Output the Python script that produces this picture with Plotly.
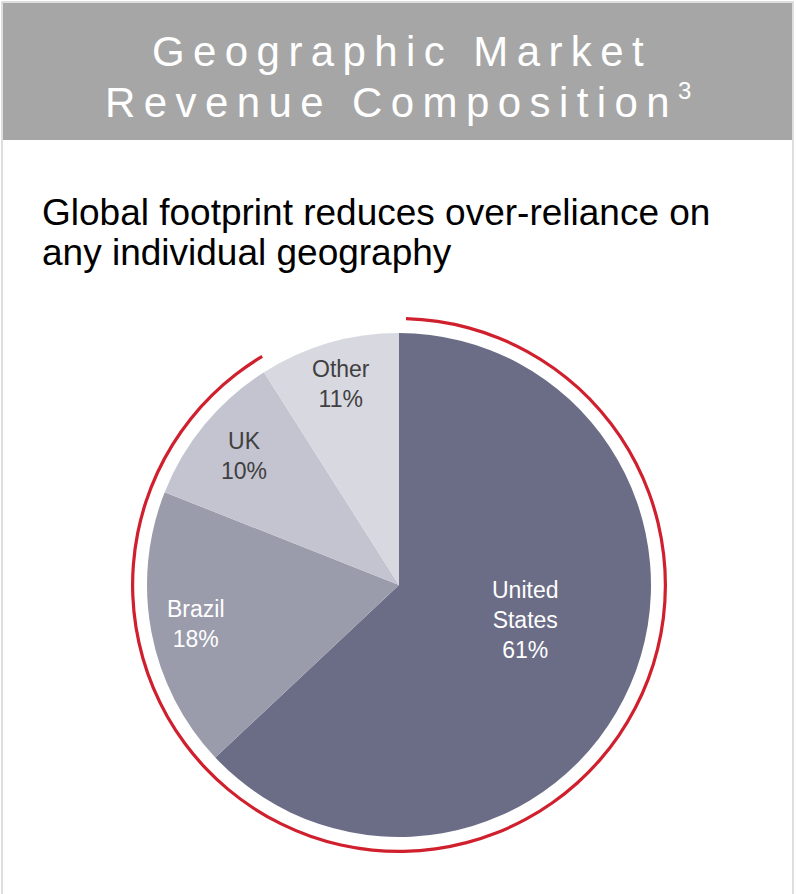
import math
import plotly.graph_objects as go

W, H = 796, 894

# ---- data ----
regions = ["United States", "Brazil", "UK", "Other"]
label_lines = ["United<br>States", "Brazil", "UK", "Other"]
slice_values = [63, 18, 10, 9]               # share as drawn (slice angles)
printed_pct = ["61%", "18%", "10%", "11%"]   # percentages printed on the slices
slice_colors = ["#6b6d87", "#9a9bab", "#c4c4d0", "#d8d8e1"]
label_colors = ["#ffffff", "#ffffff", "#404040", "#404040"]
label_radius = [0.52, 0.82, 0.80, 0.83]      # label distance from centre, fraction of radius
label_shift_deg = [-8, 0, 0, 0]              # label angle offset from slice bisector

title_lines = ["Geographic Market", "Revenue Composition"]
title_note = "3"
subtitle_lines = ["Global footprint reduces over-reliance on", "any individual geography"]


def spaced(s):
    thin = "\u2009"
    words = s.split(" ")
    return (thin + " " + thin).join(thin.join(list(w)) for w in words)


def px_x(v):
    return v / W


def px_y(v):
    return 1 - v / H


# pie geometry (pixels)
cx, cy, r = 399, 585, 252
ring_r = 268

fig = go.Figure()

# red arc: covers all regions except "Other"
covered = sum(slice_values[:-1])
fig.add_trace(go.Pie(
    values=[covered, slice_values[-1]],
    marker=dict(colors=["#d0202e", "rgba(0,0,0,0)"], line=dict(width=0)),
    hole=0.988, sort=False, direction="clockwise", rotation=1.5,
    textinfo="none", hoverinfo="skip", showlegend=False,
    domain=dict(x=[px_x(cx - ring_r), px_x(cx + ring_r)], y=[px_y(cy + ring_r), px_y(cy - ring_r)]),
))

fig.add_trace(go.Pie(
    labels=regions,
    values=slice_values,
    text=printed_pct,
    textinfo="none",
    marker=dict(colors=slice_colors, line=dict(width=0)),
    sort=False, direction="clockwise", rotation=0,
    showlegend=False, hoverinfo="label+text",
    domain=dict(x=[px_x(cx - r), px_x(cx + r)], y=[px_y(cy + r), px_y(cy - r)]),
))

# slice labels placed on each slice's bisector (computed from the values)
annotations = []
total = sum(slice_values)
cum = 0
for lab, v, pct, col, rf, sh in zip(label_lines, slice_values, printed_pct, label_colors,
                                    label_radius, label_shift_deg):
    mid = (cum + v / 2) / total * 360 + sh
    cum += v
    ang = math.radians(mid)
    lx = cx + rf * r * math.sin(ang)
    ly = cy - rf * r * math.cos(ang)
    annotations.append(dict(
        text=f"{lab}<br>{pct}", x=px_x(lx), y=px_y(ly), xref="paper", yref="paper",
        xanchor="center", yanchor="middle", align="center", showarrow=False,
        font=dict(family="Liberation Sans, Arial, sans-serif", size=23, color=col)))

shapes = [
    dict(type="rect", xref="paper", yref="paper", x0=px_x(2), x1=px_x(793), y0=-0.01, y1=px_y(2),
         line=dict(color="#d4d4d4", width=1.5), fillcolor="rgba(0,0,0,0)", layer="below"),
    dict(type="rect", xref="paper", yref="paper", x0=px_x(3), x1=px_x(792), y0=px_y(140), y1=px_y(3),
         line=dict(width=0), fillcolor="#a6a6a6", layer="below"),
]

title_font = dict(family="Liberation Sans, Arial, sans-serif", size=42, color="white")
annotations += [
    dict(text=spaced(title_lines[0]), x=0.5, y=px_y(52), xref="paper", yref="paper",
         xanchor="center", yanchor="middle", showarrow=False, font=title_font),
    dict(text=spaced(title_lines[1]) + "\u2009<sup><span style='font-size:24px'>" + title_note + "</span></sup>",
         x=0.5, y=px_y(102), xref="paper", yref="paper",
         xanchor="center", yanchor="middle", showarrow=False, font=title_font),
]
sub_font = dict(family="Liberation Sans, Arial, sans-serif", size=37, color="black")
for i, line in enumerate(subtitle_lines):
    annotations.append(dict(text=line, x=px_x(40), y=px_y(212 + 40 * i), xref="paper", yref="paper",
                            xanchor="left", yanchor="middle", align="left", showarrow=False,
                            font=sub_font))

fig.update_layout(
    width=W, height=H, margin=dict(l=0, r=0, t=0, b=0),
    paper_bgcolor="white", plot_bgcolor="white",
    shapes=shapes, annotations=annotations,
)

fig.write_html("out.html")
